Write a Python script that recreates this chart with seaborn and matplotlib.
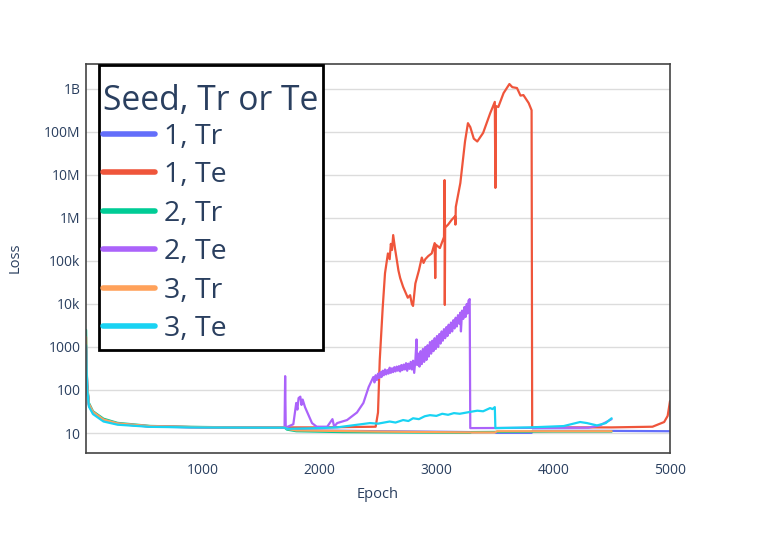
import pandas as pd
import matplotlib
matplotlib.use('Agg')
import matplotlib.pyplot as plt
import seaborn as sns

# ---- data: (epoch, loss) pairs per run ----
s1_tr = [(1, 900), (5, 350), (10, 115), (25, 44), (60, 29), (150, 19.5), (270, 16.2), (550, 14.1),
         (900, 13.6), (1200, 13.4), (1500, 13.3), (1700, 13.3),
         (1750, 12), (1900, 11.5), (2500, 11), (3000, 10.7), (3300, 10.5), (3500, 10.5),
         (3510, 10.1), (3815, 10.1), (3825, 11.3), (4500, 11.2), (5000, 11.0)]

s1_te = [(1, 1000), (5, 360), (10, 118), (25, 45), (60, 30), (150, 20), (270, 16.4), (550, 14.2),
         (900, 13.7), (1200, 13.5), (1500, 13.4), (1700, 13.4),
         (1720, 13.5), (2000, 13.5), (2480, 14), (2500, 30), (2515, 500), (2540, 8000),
         (2560, 52000), (2585, 150000), (2600, 110000), (2610, 250000), (2620, 180000),
         (2630, 400000), (2645, 200000), (2660, 110000), (2675, 60000), (2690, 40000),
         (2715, 25000), (2755, 14000), (2775, 16000), (2790, 10000), (2800, 9000),
         (2820, 30000), (2850, 60000), (2875, 120000), (2890, 90000), (2905, 110000),
         (2930, 130000), (2960, 150000), (2985, 260000), (2990, 40000), (2995, 240000),
         (3030, 200000), (3065, 360000), (3070, 7.6e6), (3072, 9500), (3075, 600000),
         (3100, 700000), (3130, 900000), (3160, 1.1e6), (3163, 700000), (3166, 1.8e6),
         (3205, 6.5e6), (3245, 6e7), (3270, 1.6e8), (3290, 1.3e8), (3320, 7e7), (3350, 6e7),
         (3400, 9.5e7), (3460, 2.7e8), (3500, 5e8), (3505, 5e6), (3510, 4e8), (3530, 3.8e8),
         (3575, 8e8), (3625, 1.3e9), (3650, 1.1e9), (3690, 1.05e9), (3720, 7e8), (3745, 7.2e8),
         (3790, 4.7e8), (3815, 3.2e8), (3820, 13), (3850, 13.5), (4500, 13.5), (4850, 14),
         (4950, 18), (4980, 25), (5000, 55)]

s2_tr = [(1, 2500), (5, 420), (10, 135), (25, 50), (60, 32), (150, 21.5), (270, 17.2), (550, 14.6),
         (900, 13.9), (1200, 13.6), (1500, 13.4), (1700, 13.4),
         (1720, 12), (1800, 11), (2200, 10.5), (3000, 10.2), (3290, 10.1),
         (3300, 10.5), (4000, 10.8), (4500, 10.8)]

s2_te = [(1, 1000), (5, 370), (10, 120), (25, 46), (60, 30), (150, 20), (270, 16.5), (550, 14.3),
         (900, 13.7), (1200, 13.5), (1500, 13.4), (1700, 13.4),
         (1705, 210), (1710, 14), (1715, 13.5), (1775, 16), (1800, 50), (1810, 35), (1820, 65),
         (1835, 70), (1845, 45), (1855, 60), (1875, 40), (1935, 17), (1975, 14), (2065, 14),
         (2110, 21), (2125, 14), (2150, 17), (2235, 20), (2320, 30), (2375, 50), (2420, 117),
         (2460, 200), (2470, 150), (2480, 220), (2490, 170), (2500, 240), (2510, 190),
         (2520, 260), (2530, 200), (2540, 280), (2550, 220), (2560, 300), (2570, 230), (2580, 290),
         (2590, 240), (2600, 330), (2610, 250), (2620, 320), (2630, 260), (2640, 340),
         (2650, 270), (2660, 350), (2670, 280), (2680, 360), (2690, 270), (2700, 380),
         (2710, 290), (2720, 390), (2730, 300), (2740, 420), (2750, 280), (2760, 410),
         (2770, 310), (2780, 450), (2790, 300), (2800, 480), (2810, 250), (2820, 500),
         (2830, 1500), (2835, 380), (2845, 700), (2855, 350), (2865, 800), (2875, 400),
         (2885, 900), (2895, 450), (2905, 1000), (2915, 500), (2925, 1100), (2935, 600),
         (2945, 1300), (2955, 700), (2965, 1400), (2975, 800), (2985, 1600), (2995, 900),
         (3005, 1800), (3015, 1000), (3025, 2000), (3035, 1200), (3045, 2300), (3055, 1400),
         (3065, 2600), (3075, 1600), (3085, 2900), (3095, 1800), (3105, 3300), (3115, 2100),
         (3125, 3700), (3135, 2300), (3145, 4200), (3155, 2700), (3165, 4800), (3175, 3000),
         (3185, 5500), (3195, 3500), (3205, 6300), (3210, 2300), (3220, 7000), (3230, 4500),
         (3240, 8500), (3250, 5000), (3260, 10000), (3265, 6000), (3275, 12000), (3285, 13000),
         (3290, 13), (4300, 13.3), (4400, 15), (4500, 21)]

s3_tr = [(1, 1700), (5, 380), (10, 125), (25, 47), (60, 31), (150, 20.5), (270, 16.7), (550, 14.4),
         (900, 13.8), (1200, 13.5), (1500, 13.4), (1700, 13.4),
         (1720, 12.5), (1800, 11.5), (2500, 10.8), (3300, 10.3), (3500, 10.3), (3520, 11),
         (4500, 11)]

s3_te = [(1, 1100), (5, 320), (10, 105), (25, 41), (60, 27.5), (150, 18.5), (270, 15.6), (550, 13.9),
         (900, 13.5), (1200, 13.4), (1500, 13.3), (1700, 13.3),
         (1720, 12.5), (2000, 13), (2150, 13.5), (2430, 17), (2500, 16.5), (2600, 18.5),
         (2650, 17.5), (2715, 20), (2760, 19), (2800, 22), (2850, 21), (2900, 24.5), (2945, 26),
         (3000, 25), (3050, 28), (3100, 26.5), (3150, 29), (3200, 28), (3290, 31), (3350, 33),
         (3400, 32), (3460, 38), (3480, 36), (3500, 40), (3505, 13), (3800, 13.5), (4090, 14.5),
         (4230, 18), (4290, 17), (4375, 15), (4450, 17), (4500, 22)]

series_names = ['1, Tr', '1, Te', '2, Tr', '2, Te', '3, Tr', '3, Te']
series_colors = ['#636EFA', '#EF553B', '#00CC96', '#AB63FA', '#FFA15A', '#19D3F3']

y_ticks = [10, 100, 1000, 1e4, 1e5, 1e6, 1e7, 1e8, 1e9]
y_tick_labels = ['10', '100', '1000', '10k', '100k', '1M', '10M', '100M', '1B']
x_ticks = [1000, 2000, 3000, 4000, 5000]

# ---- long-form table for seaborn ----
frames = []
for name, run in zip(series_names, [s1_tr, s1_te, s2_tr, s2_te, s3_tr, s3_te]):
    d = pd.DataFrame(run, columns=['Epoch', 'Loss'])
    d['Seed, Tr or Te'] = name
    frames.append(d)
df = pd.concat(frames, ignore_index=True)

sns.set_style('white')
plt.rcParams['font.family'] = ['Open Sans', 'DejaVu Sans']
text_color = '#2a3f5f'

fig = plt.figure(figsize=(7.61, 5.45), dpi=100)
ax = fig.add_axes([86 / 761, (545 - 453) / 545, 584 / 761, 389 / 545])

sns.lineplot(data=df, x='Epoch', y='Loss', hue='Seed, Tr or Te', hue_order=series_names,
             palette=series_colors, estimator=None, sort=False, linewidth=1.6, ax=ax)

ax.set_yscale('log')
ax.set_ylim(10 ** 0.535, 10 ** 9.58)
ax.set_xlim(0, 5000)
ax.set_yticks(y_ticks)
ax.set_yticklabels(y_tick_labels)
ax.minorticks_off()
ax.set_xticks(x_ticks)
ax.set_xticklabels([str(t) for t in x_ticks])
ax.tick_params(axis='both', length=0, labelsize=10, colors=text_color)
ax.tick_params(axis='x', pad=7)
ax.tick_params(axis='y', pad=4)
ax.yaxis.grid(True, color='#dcdcdc', linewidth=1)
ax.xaxis.grid(False)
ax.set_axisbelow(True)
for sp in ax.spines.values():
    sp.set_visible(True)
    sp.set_color('#444444')
    sp.set_linewidth(1.2)
ax.set_xlabel('')
ax.set_ylabel('')
fig.text(378 / 761, 1 - 494 / 545, 'Epoch', ha='center', va='center', fontsize=10.5, color=text_color)
fig.text(15 / 761, 1 - 258 / 545, 'Loss', ha='center', va='center', rotation=90,
         fontsize=10.5, color=text_color)

# legend content without its own frame; the box is drawn separately
sns.move_legend(ax, 'upper left', bbox_to_anchor=(0.019, 0.962), title='Seed, Tr or Te',
                fontsize=20.5, title_fontsize=24.2, frameon=False,
                handlelength=1.85, handletextpad=0.3, labelspacing=0.37,
                borderpad=0.2, borderaxespad=0)
leg = ax.get_legend()
leg._legend_box.align = 'left'
leg._legend_box.sep = 3
for t in leg.get_texts():
    t.set_color(text_color)
leg.get_title().set_color(text_color)
for h in leg.legend_handles:
    h.set_linewidth(4)

box = plt.Rectangle((99 / 761, 1 - 350 / 545), 224 / 761, 285 / 545, transform=fig.transFigure,
                    facecolor='white', edgecolor='black', linewidth=2, zorder=4.5)
ax.add_patch(box)

fig.savefig('out.png', dpi=100)
